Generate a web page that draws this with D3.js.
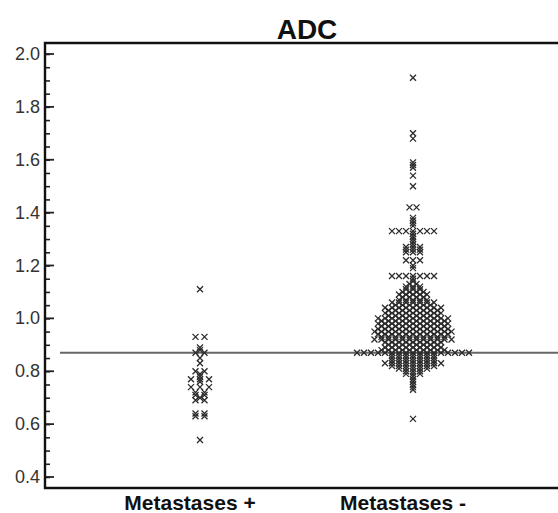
<!DOCTYPE html>
<html>
<head>
<meta charset="utf-8">
<script src="https://cdn.jsdelivr.net/npm/d3@7"></script>
<style>
  html, body { margin: 0; padding: 0; background: #fff; }
  svg { display: block; font-family: "Liberation Sans", Arial, sans-serif; }
</style>
</head>
<body>
<svg width="558" height="513"></svg>
<script>
// groups on the x axis
const groups = ["Metastases +", "Metastases -"];

// ADC values (one entry per row of equal value) and how many cases share it
const posValues = [1.11, 0.93, 0.89, 0.88, 0.87, 0.85, 0.83, 0.80, 0.79, 0.78, 0.77, 0.76,
  0.74, 0.72, 0.71, 0.70, 0.69, 0.64, 0.63, 0.54];
const posCounts = [1, 2, 1, 1, 2, 1, 1, 2, 1, 1, 3, 1,
  3, 2, 2, 1, 2, 2, 2, 1];

const negValues = [1.91, 1.70, 1.68, 1.59, 1.58, 1.57, 1.54, 1.50, 1.42,
  1.38, 1.37, 1.36, 1.35, 1.33, 1.32, 1.31, 1.30, 1.29, 1.28, 1.27, 1.26, 1.25,
  1.22, 1.20, 1.19, 1.16, 1.15, 1.14, 1.13, 1.12, 1.11, 1.10, 1.09, 1.08, 1.07,
  1.06, 1.05, 1.04, 1.03, 1.02, 1.01, 1.00, 0.99, 0.98, 0.97, 0.96, 0.95, 0.94,
  0.93, 0.92, 0.91, 0.90, 0.89, 0.88, 0.87, 0.86, 0.85, 0.84, 0.83, 0.82, 0.81,
  0.80, 0.79, 0.78, 0.77, 0.76, 0.75, 0.74, 0.73, 0.62];
const negCounts = [1, 1, 1, 1, 1, 1, 1, 1, 2,
  1, 1, 1, 1, 7, 1, 1, 1, 1, 1, 3, 3, 3,
  3, 1, 1, 7, 1, 1, 2, 3, 3, 4, 5, 4, 5,
  7, 6, 9, 8, 9, 8, 11, 10, 11, 10, 11, 12, 11,
  10, 12, 9, 8, 9, 10, 17, 7, 7, 7, 9, 7, 5,
  3, 3, 1, 1, 1, 1, 1, 1, 1];

const yTicks = [0.4, 0.6, 0.8, 1.0, 1.2, 1.4, 1.6, 1.8, 2.0];
const cutoff = 0.87; // threshold line

const svg = d3.select("svg");
const frameL = 45, frameT = 43, frameB = 488, frameR = 560;

const y = d3.scaleLinear().domain([0.4, 2.0]).range([477, 54]);
const x = d3.scalePoint().domain(groups).range([200, 413]);

// title
svg.append("text")
  .attr("x", 307).attr("y", 39)
  .attr("text-anchor", "middle")
  .attr("font-size", 28)
  .attr("font-weight", "bold")
  .attr("fill", "#111")
  .text("ADC");

// y axis with inward ticks
const yAxis = d3.axisRight(y)
  .tickValues(d3.range(0.4, 2.001, 0.05))
  .tickSize(5)
  .tickFormat("");
const ga = svg.append("g").attr("transform", `translate(${frameL},0)`).call(yAxis);
ga.select(".domain").remove();
ga.selectAll("line").attr("stroke", "#222").attr("stroke-width", 1.6);

svg.append("g").attr("transform", `translate(${frameL},0)`)
  .selectAll("line").data(yTicks).join("line")
  .attr("x1", 0).attr("x2", 9)
  .attr("y1", d => y(d)).attr("y2", d => y(d))
  .attr("stroke", "#222").attr("stroke-width", 1.8);

svg.append("g").selectAll("text").data(yTicks).join("text")
  .attr("x", 40).attr("y", d => y(d) + 6)
  .attr("text-anchor", "end")
  .attr("font-size", 18)
  .attr("fill", "#333")
  .text(d3.format(".1f"));

// frame
svg.append("path")
  .attr("d", `M${frameR},${frameT}H${frameL}V${frameB}H${frameR}`)
  .attr("fill", "none").attr("stroke", "#111").attr("stroke-width", 2.4);

// cutoff line
svg.append("line")
  .attr("x1", 60).attr("x2", frameR)
  .attr("y1", y(cutoff)).attr("y2", y(cutoff))
  .attr("stroke", "#666").attr("stroke-width", 2);

// dot plot: equal values spread side by side
function rows(values, counts, group, gap) {
  const pts = [];
  values.forEach((v, i) => {
    const n = counts[i];
    for (let k = 0; k < n; k++) {
      pts.push({ v, cx: x(group) + (k - (n - 1) / 2) * gap });
    }
  });
  return pts;
}
const points = rows(posValues, posCounts, groups[0], 9)
  .concat(rows(negValues, negCounts, groups[1], 7));

svg.append("g")
  .attr("stroke", "#2a2a2a").attr("stroke-width", 1.3).attr("fill", "none")
  .selectAll("path").data(points).join("path")
  .attr("transform", d => `translate(${d.cx},${y(d.v)})`)
  .attr("d", "M-3,-3L3,3M-3,3L3,-3");

// group labels
svg.append("g").selectAll("text").data(groups).join("text")
  .attr("x", d => x(d) - 10).attr("y", 510)
  .attr("text-anchor", "middle")
  .attr("font-size", 21)
  .attr("font-weight", "bold")
  .attr("fill", "#111")
  .text(d => d);
</script>
</body>
</html>
